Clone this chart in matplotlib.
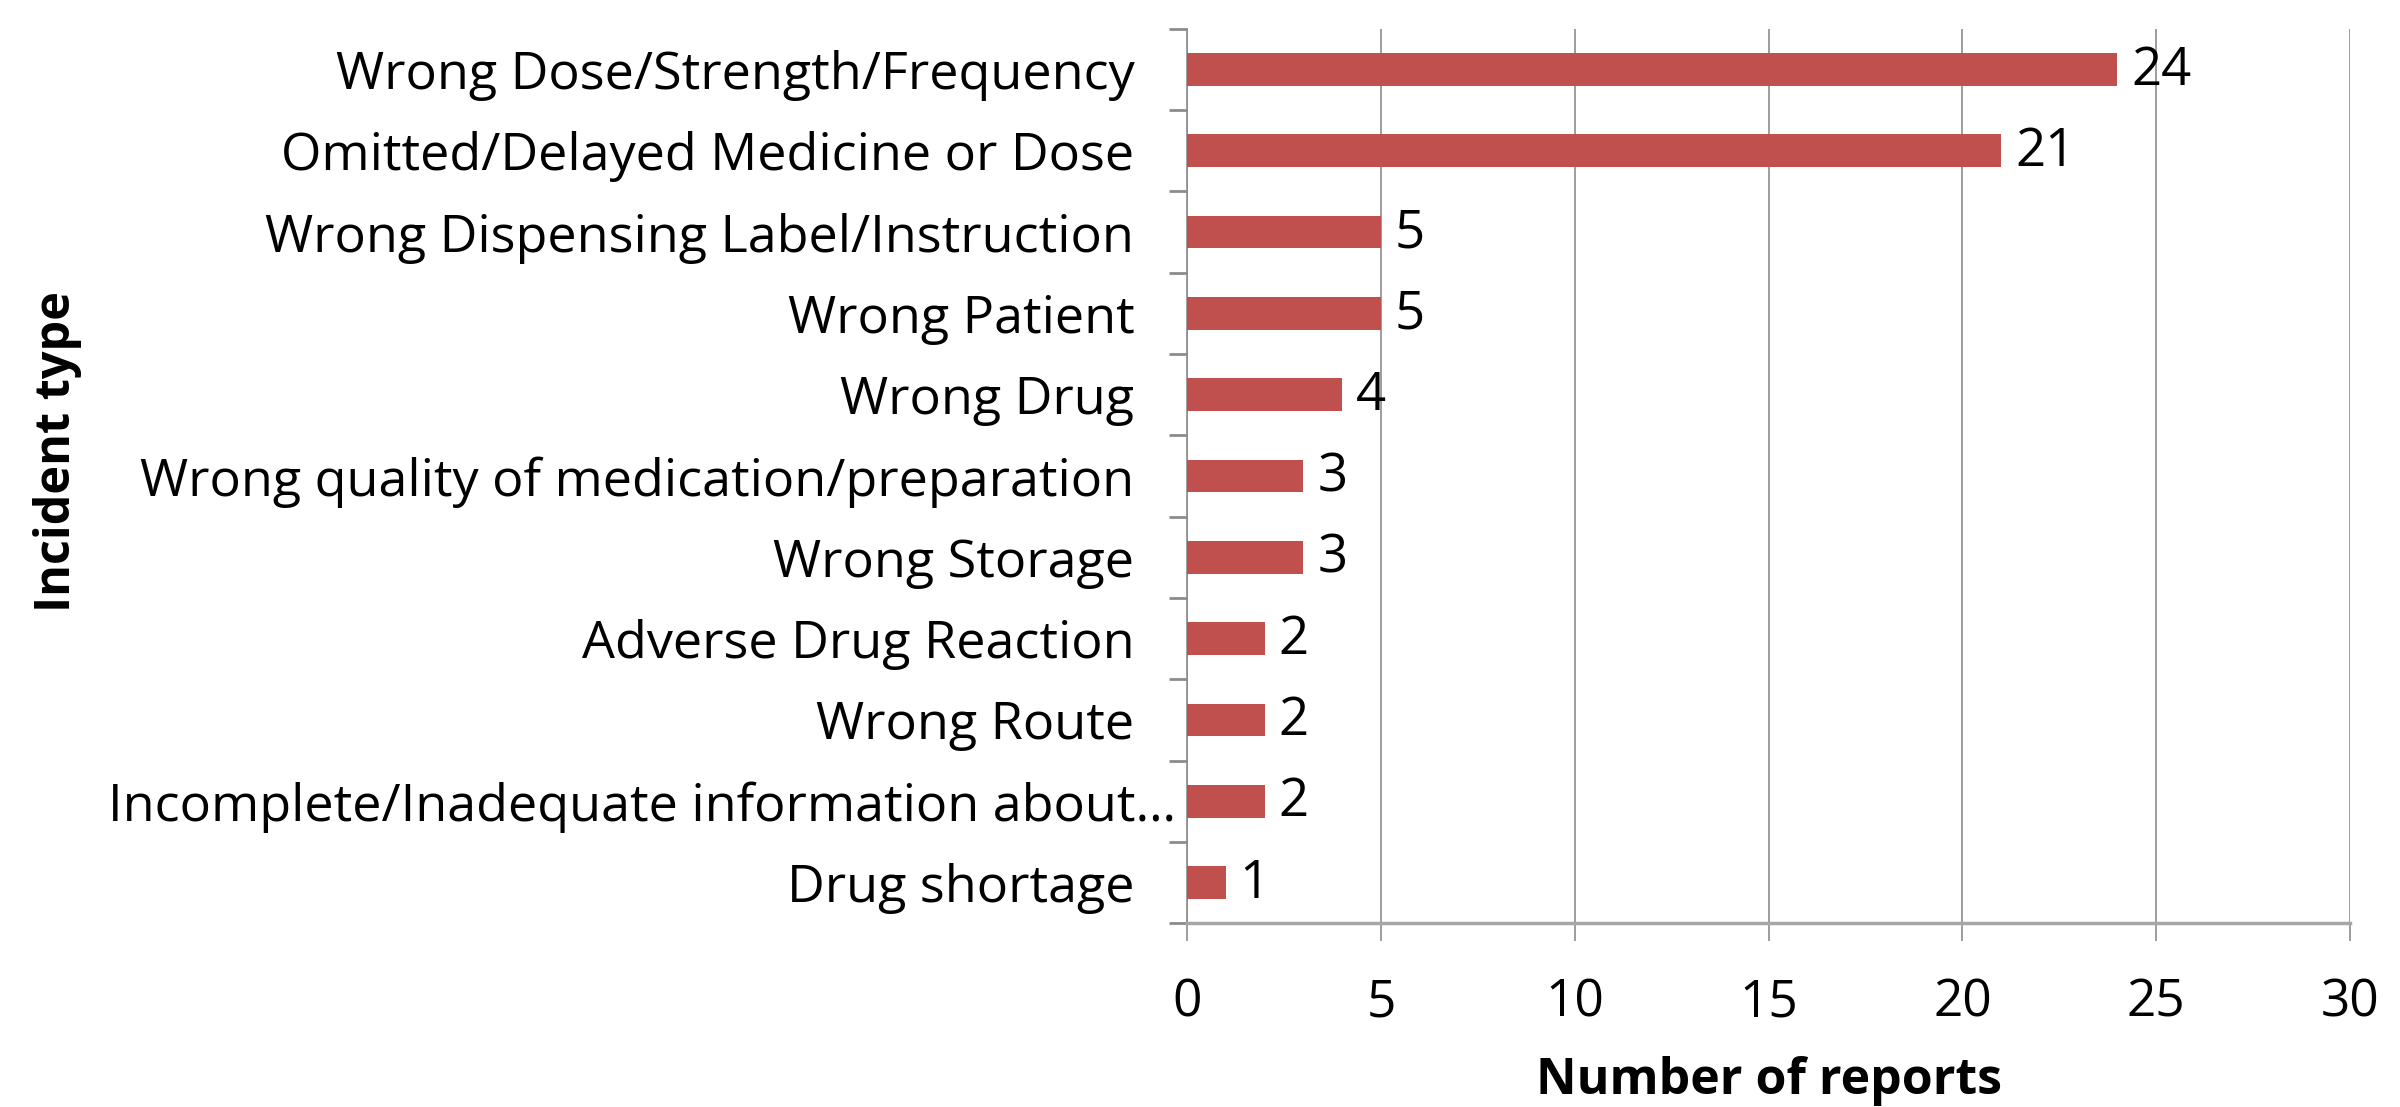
import matplotlib
matplotlib.use('Agg')
import matplotlib.pyplot as plt
import matplotlib.transforms as mtransforms
import numpy as np

plt.rcParams['font.family'] = ['Open Sans', 'DejaVu Sans']

# data
incident_types = [
    'Wrong Dose/Strength/Frequency',
    'Omitted/Delayed Medicine or Dose',
    'Wrong Dispensing Label/Instruction',
    'Wrong Patient',
    'Wrong Drug',
    'Wrong quality of medication/preparation',
    'Wrong Storage',
    'Adverse Drug Reaction',
    'Wrong Route',
    'Incomplete/Inadequate information about\u2026',
    'Drug shortage',
]
report_counts = [24, 21, 5, 5, 4, 3, 3, 2, 2, 2, 1]
x_ticks = [0, 5, 10, 15, 20, 25, 30]

bar_color = '#C0504D'
grey = '#8C8C8C'
fs = 37.5

fig = plt.figure(figsize=(24, 11.07), dpi=100)
ax = fig.add_axes([0.4946, 0.166, 0.4846, 0.808])

y = np.arange(len(incident_types))
ax.barh(y, report_counts, height=0.4, color=bar_color, zorder=3)
for yi, v in zip(y, report_counts):
    ax.annotate(str(v), (v, yi), xytext=(10, -1), textcoords='offset points',
                va='center', ha='left', fontsize=38)

ax.set_xlim(0, 30)
ax.set_ylim(len(incident_types) - 0.5, -0.5)
ax.set_xticks(x_ticks)
ax.set_xticklabels([str(t) for t in x_ticks], fontsize=37)
ax.tick_params(axis='x', length=13, width=1.2, color=grey, pad=26)
ax.grid(axis='x', color=grey, linewidth=1.2, zorder=0)

# category boundaries as major ticks, names on minor ticks
ax.set_yticks(np.arange(-0.5, len(incident_types), 1.0))
ax.set_yticklabels([])
ax.set_yticks(y, minor=True)
ax.set_yticklabels(incident_types, minor=True, fontsize=fs)
ax.tick_params(axis='y', which='major', length=13, width=2, color=grey)
ax.tick_params(axis='y', which='minor', length=0, pad=38)
# the truncated label sits closer to the axis
lab = ax.get_yticklabels(minor=True)[9]
lab.set_transform(lab.get_transform() + mtransforms.ScaledTranslation(30 / 72, 0, fig.dpi_scale_trans))

for s in ['top', 'right']:
    ax.spines[s].set_visible(False)
ax.spines['left'].set_color(grey)
ax.spines['left'].set_linewidth(1.2)
ax.spines['bottom'].set_color('#A6A6A6')
ax.spines['bottom'].set_linewidth(2.5)

ax.set_xlabel('Number of reports', fontsize=36, fontweight='bold', labelpad=20)
fig.text(0.024, 0.592, 'Incident type', rotation=90, fontsize=35, fontweight='bold',
         ha='center', va='center')

fig.savefig('out.png', dpi=100)
